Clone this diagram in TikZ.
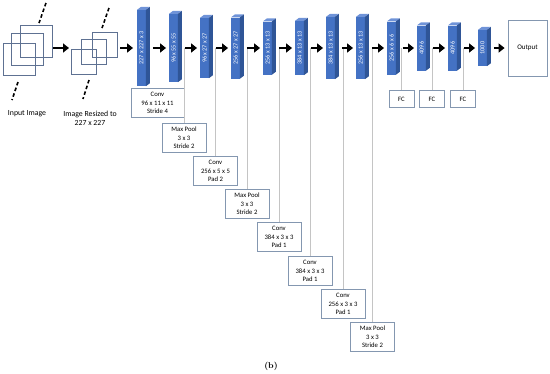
\documentclass[tikz,border=0pt]{standalone}
\usepackage{fontspec}
\newfontfamily\diagfont{Carlito}
\definecolor{BarBlue}{HTML}{4472C4}
\definecolor{BarTop}{HTML}{6F93D8}
\definecolor{BarSide}{HTML}{2F5597}
\definecolor{FrameSlate}{HTML}{8497B0}
\definecolor{GuideGray}{HTML}{C4C4C4}
\definecolor{SheetSlate}{HTML}{5E7192}
\usetikzlibrary{arrows.meta}

\begin{document}
\begin{tikzpicture}[
    x=1pt, y=-1pt,
    font={\diagfont\fontsize{6.7}{8.6}\selectfont},
    barnode/.style={fill=BarBlue, text=white, inner sep=0pt, minimum width=8.5pt,
      font={\diagfont\fontsize{6.2}{7}\selectfont}},
    layerbox/.style={draw=FrameSlate, line width=0.8pt, fill=white, align=center,
      inner sep=1pt, minimum width=44pt, minimum height=29pt, anchor=north},
    fcbox/.style={draw=FrameSlate, line width=0.8pt, fill=white, inner sep=0pt,
      minimum width=25pt, minimum height=17pt, anchor=north},
    sheet/.style={draw=SheetSlate, line width=0.8pt, inner sep=0pt},
    guide/.style={draw=GuideGray, line width=0.8pt},
    dotline/.style={line width=1.6pt, dash pattern=on 3.5pt off 2.5pt},
    fatarrow/.style={line width=2.8pt, -{Triangle[length=6pt,width=9pt]}},
    bararrow/.style={fatarrow, shorten <=7pt, shorten >=3pt}
  ]
    \useasboundingbox (0,0) rectangle (550,373);

    % input image and its resized copy
    \foreach \cx/\cy/\i in {19/59.5/1, 27.5/49/2, 36.5/41.5/3}
      \node[sheet, minimum size=32pt] (orig\i) at (\cx,\cy) {};
    \foreach \cx/\cy/\i in {83.5/61.5/1, 93.5/52/2, 104.5/44.5/3}
      \node[sheet, minimum size=25pt] (small\i) at (\cx,\cy) {};
    \draw[dotline] (46,3) -- (39,23);
    \draw[dotline] (18,82) -- (12,100);
    \draw[dotline] (109,8) -- (102,28);
    \draw[dotline] (89,80) -- (83,99);
    \node[font={\diagfont\fontsize{7.8}{9}\selectfont}] (inlabel) at (27,114) {Input Image};
    \node[font={\diagfont\fontsize{7.8}{9}\selectfont}, align=center] (rslabel) at (90,118.5)
      {Image Resized to\\227 x 227};

    % layer boxes hanging from the arrows
    \node[layerbox, minimum width=53pt] (box1) at (157.5,88) {Conv\\96 x 11 x 11\\Stride 4};
    \foreach \cx/\top/\txt [count=\i from 2] in {
        184/123/{Max Pool\\3 x 3\\Stride 2},
        215.5/156/{Conv\\256 x 5 x 5\\Pad 2},
        247/189/{Max Pool\\3 x 3\\Stride 2},
        279/222/{Conv\\384 x 3 x 3\\Pad 1},
        310/256/{Conv\\384 x 3 x 3\\Pad 1},
        343/289/{Conv\\256 x 3 x 3\\Pad 1},
        372.5/322/{Max Pool\\3 x 3\\Stride 2}}
    {
      \coordinate (tap\i) at (\cx,48);
      \node[layerbox] (box\i) at (\cx,\top) {\txt};
      \draw[guide] (tap\i) -- (box\i);
    }
    \foreach \cx/\i in {401.5/1, 432/2, 463/3}
    {
      \coordinate (fctap\i) at (\cx,48);
      \node[fcbox] (fc\i) at (\cx,90) {FC};
      \draw[guide] (fctap\i) -- (fc\i);
    }

    % feature maps as blue prisms
    \foreach \cx/\h/\dims [count=\i] in {
        141.5/76/227 x 227 x 3, 173.5/68/96 x 55 x 55, 204.5/60/96 x 27 x 27,
        235.5/61/256 x 27 x 27, 267.5/53/256 x 13 x 13, 299.5/54/384 x 13 x 13,
        330.5/62/384 x 13 x 13, 360.5/62/256 x 13 x 13, 391.5/53/256 x 6 x 6,
        421.5/45/4096, 452.5/45/4096, 482.5/36/1000}
    {
      \node[barnode, minimum height=\h pt] (bar\i) at (\cx,48) {\rotatebox{90}{\dims}};
      \fill[BarTop] (bar\i.north west) -- ++(4,-3) -- ++(8.5,0) -- (bar\i.north east) -- cycle;
      \fill[BarSide] (bar\i.north east) -- ++(4,-3) -- ([shift={(4,-3)}]bar\i.south east)
        -- (bar\i.south east) -- cycle;
    }
    \node[draw=FrameSlate, line width=0.8pt, minimum width=39pt, minimum height=56pt,
      font={\diagfont\fontsize{7}{8}\selectfont}] (out) at (527.5,48) {Output};

    % arrows
    \coordinate (origout) at (53,48);
    \coordinate (smallin) at (69,48);
    \coordinate (smallout) at (120,48);
    \draw[fatarrow] (origout) -- (smallin);
    \draw[fatarrow, shorten >=4pt] (smallout) -- (bar1);
    \foreach \i [remember=\i as \j (initially 1)] in {2,...,12}
      \draw[bararrow] (bar\j) -- (bar\i);
    \draw[bararrow] (bar12) -- (out);

    \node[font=\bfseries\fontsize{8.5}{10}\selectfont] (caption) at (271,366) {(b)};
  \end{tikzpicture}
\end{document}
